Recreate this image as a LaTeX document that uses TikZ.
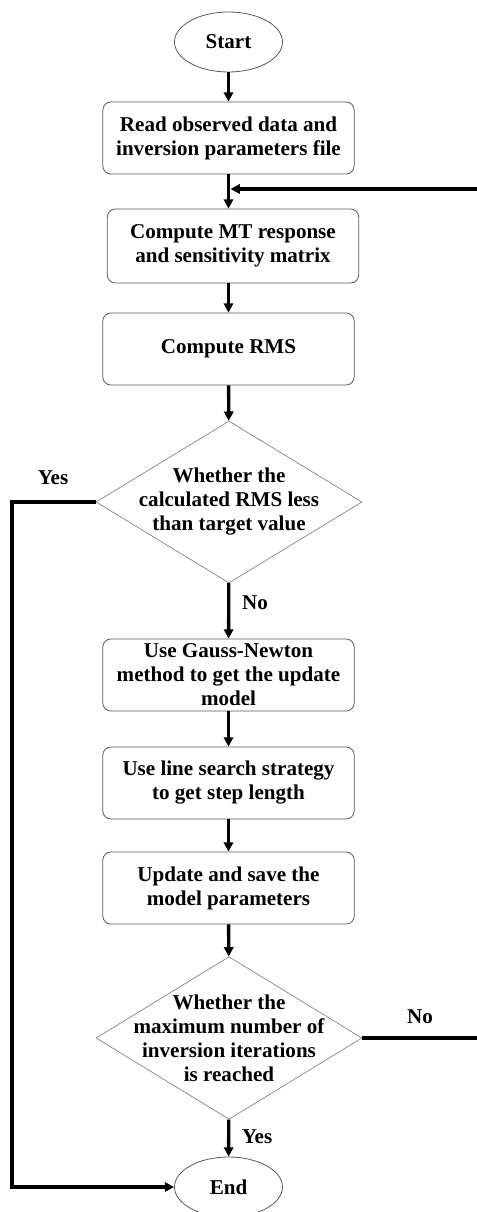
\documentclass[tikz,border=0pt]{standalone}
\usepackage{fontspec}
\setmainfont{Liberation Serif}
\usetikzlibrary{shapes.geometric,arrows.meta}

\tikzset{
  flowtxt/.style={font=\fontsize{15.8}{18}\selectfont\bfseries, align=center},
  terminal/.style={ellipse, draw=black!65, line width=0.6pt, flowtxt, minimum width=81pt, minimum height=45pt, inner sep=0pt},
  procbox/.style={rectangle, rounded corners=6pt, draw=black!65, line width=0.6pt, flowtxt, minimum width=188.5pt, minimum height=54pt, inner sep=0pt},
  decision/.style={diamond, draw=black!50, line width=0.5pt, minimum width=199.5pt, minimum height=121.5pt, inner sep=0pt},
  flowarrow/.style={line width=2.5pt, -{Triangle[length=7pt,width=7pt]}},
}

\begin{document}
\begin{tikzpicture}[x=0.75pt,y=0.75pt,yscale=-1,xscale=1]
\useasboundingbox (0,0) rectangle (477,1212);

%Shape: Ellipse
\node[terminal] (start) at (228.5,42) {Start};
%Rounded Rect
\node[procbox] (read) at (228.5,138) {Read observed data and\\inversion parameters file};
%Rounded Rect
\node[procbox, minimum height=55.5pt] (resp) at (233,246) {Compute MT response\\and sensitivity matrix};
%Rounded Rect
\node[procbox] (rms) at (228.5,349) {Compute RMS};
%Diamond
\node[decision, label={[flowtxt]center:Whether the\\calculated RMS less\\than target value}] (chk) at (229,502) {};
%Rounded Rect
\node[procbox] (gauss) at (228.5,675) {Use Gauss-Newton\\method to get the update\\model};
%Rounded Rect
\node[procbox] (search) at (228.5,783) {Use line search strategy\\to get step length};
%Rounded Rect
\node[procbox] (save) at (228.5,888) {Update and save the\\model parameters};
%Diamond
\node[decision, minimum height=122pt, label={[flowtxt]center:Whether the\\maximum number of\\inversion iterations\\is reached}] (iter) at (229,1038) {};
%Shape: Ellipse
\node[terminal] (end) at (228.5,1187) {End};

% Text Node
\node[flowtxt] (yesl) at (53,478) {Yes};
% Text Node
\node[flowtxt] (nod) at (255,603) {No};
% Text Node
\node[flowtxt] (nor) at (420,1017) {No};
% Text Node
\node[flowtxt] (yesd) at (257,1137) {Yes};

%Straight Lines
\coordinate (rtop) at (481,189);
\coordinate (lbot) at (12,1187);
\draw[flowarrow] (start) -- (read);
\draw[flowarrow] (read.south) -- (read.south |- resp.north);
\draw[flowarrow] (resp.south -| read.south) -- (rms);
\draw[flowarrow] (rms) -- (chk);
\draw[flowarrow] (chk) -- (gauss);
\draw[flowarrow] (gauss) -- (search);
\draw[flowarrow] (search) -- (save);
\draw[flowarrow] (save) -- (iter);
\draw[flowarrow] (iter) -- (end);
%Yes branch to End
\draw[flowarrow] (chk.west) -- (chk.west -| lbot) -- (lbot) -- (end.west);
%No branch back to forward modelling
\draw[flowarrow] (iter.east) -- (iter.east -| rtop) -- (rtop) -- ([xshift=1.5pt]rtop -| read.south);

\end{tikzpicture}
\end{document}
